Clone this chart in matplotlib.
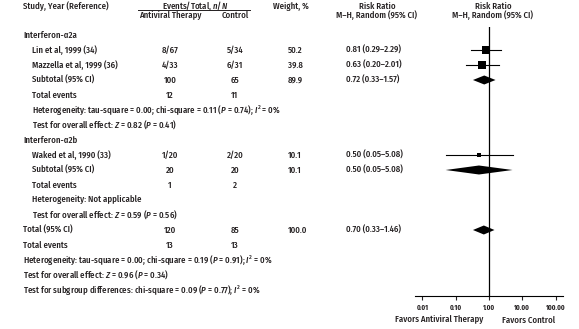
import matplotlib
matplotlib.use("Agg")
import matplotlib.pyplot as plt
import matplotlib.transforms as mtransforms
from matplotlib.lines import Line2D
import numpy as np

FONT = "Fira Sans Condensed"
plt.rcParams["font.family"] = [FONT, "Liberation Sans", "DejaVu Sans"]
plt.rcParams["font.weight"] = "medium"
plt.rcParams["mathtext.fontset"] = "custom"
plt.rcParams["mathtext.it"] = FONT + ":italic:medium"
plt.rcParams["mathtext.rm"] = FONT + ":medium"

# study data
studies = ["Lin et al, 1999 (34)", "Mazzella et al, 1999 (36)", "Waked et al, 1990 (33)"]
study_group = [0, 0, 1]
tx_events = [8, 4, 1]
tx_total = [67, 33, 20]
ctl_events = [5, 6, 2]
ctl_total = [34, 31, 20]
weights = [50.2, 39.8, 10.1]
rr = [0.81, 0.63, 0.50]
rr_lo = [0.29, 0.20, 0.05]
rr_hi = [2.29, 2.01, 5.08]

# subgroup pooled estimates
groups = ["Interferon-\u03b12a", "Interferon-\u03b12b"]
sub_rr = [0.72, 0.50]
sub_lo = [0.33, 0.05]
sub_hi = [1.57, 5.08]
sub_weight = [89.9, 10.1]
sub_het = ["Heterogeneity: tau-square = 0.00; chi-square = 0.11 ($P$ = 0.74); $I^2$ = 0%",
           "Heterogeneity: Not applicable"]
sub_test = ["Test for overall effect: $Z$ = 0.82 ($P$ = 0.41)",
            "Test for overall effect: $Z$ = 0.59 ($P$ = 0.56)"]

# overall
tot_rr, tot_lo, tot_hi, tot_weight = 0.70, 0.33, 1.46, 100.0
tot_het = "Heterogeneity: tau-square = 0.00; chi-square = 0.19 ($P$ = 0.91); $I^2$ = 0%"
tot_test = "Test for overall effect: $Z$ = 0.96 ($P$ = 0.34)"
subgroup_test = "Test for subgroup differences: chi-square = 0.09 ($P$ = 0.77); $I^2$ = 0%"

xticks = [0.01, 0.1, 1, 10, 100]
xticklabels = ["0.01", "0.10", "1.00", "10.00", "100.00"]

W, H = 579, 329
TXT = "#231f20"
FS = 6.3

fig = plt.figure(figsize=(W / 100, H / 100), dpi=100)
# forest axes placed in pixel terms: x 415..563, y 27..296
ax = fig.add_axes([415 / W, 1 - 296 / H, (563 - 415) / W, (296 - 27) / H])
ax.set_xscale("log")
ax.set_xlim(10 ** -2.22, 10 ** 2.22)
ax.set_ylim(17.4, -0.533)

trans = mtransforms.blended_transform_factory(fig.transFigure, ax.transData)


def put(px, row, s, ha="left", **kw):
    fig.text(px / W, row, s, ha=ha, va="center", transform=trans,
             fontsize=FS, color=TXT, **kw)


def diamond(y, c, lo, hi, h=0.3):
    ax.fill([lo, c, hi, c], [y, y - h, y, y + h], color="black", lw=0, zorder=3)


# headers
put(23, -1.93, "Study, Year (Reference)")
put(195, -1.93, "Events/Total, $n/N$", ha="center")
put(170, -1.3, "Antiviral Therapy", ha="center")
put(235, -1.3, "Control", ha="center")
put(273, -1.93, "Weight, %")
put(377, -1.93, "Risk Ratio", ha="center")
put(377, -1.3, "M\u2013H, Random (95% CI)", ha="center")
put(493, -1.93, "Risk Ratio", ha="center")
put(493, -1.3, "M\u2013H, Random (95% CI)", ha="center")
fig.add_artist(Line2D([138 / W, 250 / W], [1 - 10 / H, 1 - 10 / H], color=TXT, lw=0.7))

row = 0
for g, gname in enumerate(groups):
    put(23, row, gname)
    row += 1
    idx = [i for i in range(len(studies)) if study_group[i] == g]
    for i in idx:
        put(32, row, studies[i])
        put(170, row, f"{tx_events[i]}/{tx_total[i]}", ha="center")
        put(235, row, f"{ctl_events[i]}/{ctl_total[i]}", ha="center")
        put(288, row, f"{weights[i]:.1f}")
        put(346, row, f"{rr[i]:.2f} ({rr_lo[i]:.2f}\u2013{rr_hi[i]:.2f})")
        ax.plot([rr_lo[i], rr_hi[i]], [row, row], color="black", lw=0.8, zorder=2)
        ax.plot(rr[i], row, marker="s", color="black", ms=0.8 * np.sqrt(weights[i]),
                mew=0, zorder=3)
        row += 1
    put(32, row, "Subtotal (95% CI)")
    put(170, row, str(sum(tx_total[i] for i in idx)), ha="center")
    put(235, row, str(sum(ctl_total[i] for i in idx)), ha="center")
    put(288, row, f"{sub_weight[g]:.1f}")
    put(346, row, f"{sub_rr[g]:.2f} ({sub_lo[g]:.2f}\u2013{sub_hi[g]:.2f})")
    diamond(row, sub_rr[g], sub_lo[g], sub_hi[g])
    row += 1
    put(32, row, "Total events")
    put(170, row, str(sum(tx_events[i] for i in idx)), ha="center")
    put(235, row, str(sum(ctl_events[i] for i in idx)), ha="center")
    row += 1
    put(32, row, sub_het[g])
    row += 1
    put(32, row, sub_test[g])
    row += 1

put(23, row, "Total (95% CI)")
put(170, row, str(sum(tx_total)), ha="center")
put(235, row, str(sum(ctl_total)), ha="center")
put(288, row, f"{tot_weight:.1f}")
put(346, row, f"{tot_rr:.2f} ({tot_lo:.2f}\u2013{tot_hi:.2f})")
diamond(row, tot_rr, tot_lo, tot_hi)
row += 1
put(23, row, "Total events")
put(170, row, str(sum(tx_events)), ha="center")
put(235, row, str(sum(ctl_events)), ha="center")
row += 1
put(23, row, tot_het)
row += 1
put(23, row, tot_test)
row += 1
put(23, row, subgroup_test)

# axis styling
ax.axvline(1, color="black", lw=0.9, zorder=1)
for s in ["top", "left", "right"]:
    ax.spines[s].set_visible(False)
ax.spines["bottom"].set_linewidth(0.8)
ax.set_yticks([])
ax.set_xticks(xticks)
ax.set_xticklabels(xticklabels)
ax.minorticks_off()
ax.tick_params(axis="x", length=3, width=0.8, labelsize=5, pad=3, colors=TXT)
for lab in ax.get_xticklabels():
    lab.set_fontweight("bold")
ax.patch.set_alpha(0)

fig.text(483 / W, 1 - 320 / H, "Favors Antiviral Therapy", ha="right", va="center",
         fontsize=FS, color=TXT)
fig.text(502 / W, 1 - 320 / H, "Favors Control", ha="left", va="center",
         fontsize=FS, color=TXT)

fig.savefig("out.png", dpi=100)
